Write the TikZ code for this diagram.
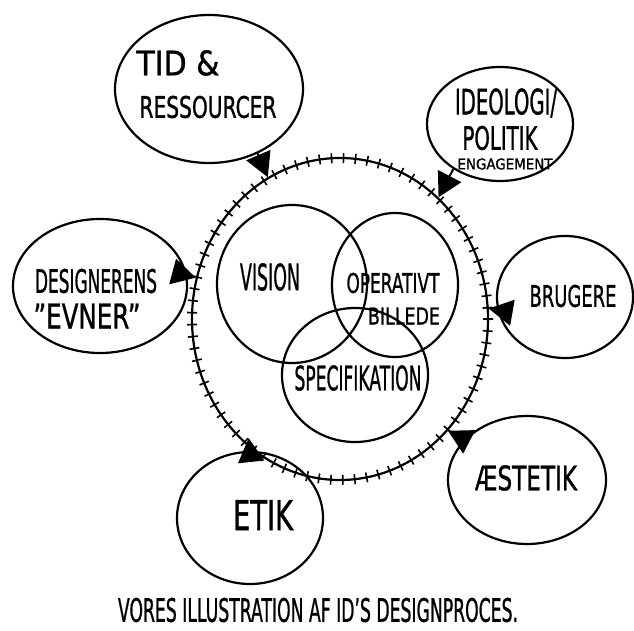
\documentclass[tikz,border=0pt]{standalone}
\usepackage{fontspec}
\usepackage{graphicx}
\setmainfont[FakeBold=1.2]{DejaVu Sans}
\usetikzlibrary{shapes.geometric,arrows.meta,decorations.pathreplacing}
\newcommand\lbl[3]{\resizebox{#1pt}{#2pt}{#3}}
\begin{document}
\begin{tikzpicture}[x=1pt,y=-1pt,
  circ/.style={ellipse, draw, line width=2.2pt, inner sep=0pt},
  txt/.style={inner sep=0pt},
  conn/.style={line width=2pt},
  tip/.tip={Triangle[length=24pt,width=26pt]},
  tickdeco/.style={decorate, line width=1.6pt, decoration={ticks, segment length=12pt, amplitude=5pt}}]
\useasboundingbox (0,0) rectangle (634,631);
% big ticked circle
\node[circ, minimum width=296pt, minimum height=322pt] (big) at (340,319) {};
\draw[tickdeco] (340,319) ellipse [x radius=148, y radius=161];
% inner circles
\node[circ, minimum width=150pt, minimum height=158pt] (vis) at (292,284) {};
\node[circ, minimum width=126pt, minimum height=144pt] (ope) at (395,285) {};
\node[circ, minimum width=146pt, minimum height=134pt] (spe) at (355,375) {};
% outer circles
\node[circ, minimum width=188pt, minimum height=148pt] (tid) at (209,89) {};
\node[circ, minimum width=146pt, minimum height=114pt] (ideo) at (500,124) {};
\node[circ, minimum width=174pt, minimum height=134pt] (des) at (100,286) {};
\node[circ, minimum width=136pt, minimum height=122pt] (bru) at (565,297) {};
\node[circ, minimum width=158pt, minimum height=128pt] (aes) at (527,480) {};
\node[circ, minimum width=146pt, minimum height=132pt] (etik) at (250,518) {};
% labels
\node[txt] (tidA) at (178,63) {\lbl{83}{25}{TID \&}};
\node[txt] (tidB) at (208,107) {\lbl{137}{22}{RESSOURCER}};
\node[txt] (ideoA) at (506,103) {\lbl{102}{26}{IDEOLOGI/}};
\node[txt] (ideoB) at (500,138) {\lbl{75}{24}{POLITIK}};
\node[txt] (ideoC) at (505,164) {\lbl{95}{11}{ENGAGEMENT}};
\node[txt] (desA) at (96,281) {\lbl{122}{24}{DESIGNERENS}};
\node[txt] (desB) at (87,316) {\lbl{107}{25}{"EVNER"}};
\node[txt] (bruA) at (573,296) {\lbl{87}{22}{BRUGERE}};
\node[txt] (aesA) at (526,478) {\lbl{102}{25}{ÆSTETIK}};
\node[txt] (etikA) at (263,515) {\lbl{60}{30}{ETIK}};
\node[txt] (visA) at (270,277) {\lbl{60}{27}{VISION}};
\node[txt] (opeA) at (393,283) {\lbl{93}{20}{OPERATIVT}};
\node[txt] (opeB) at (404,316) {\lbl{72}{17}{BILLEDE}};
\node[txt] (speA) at (358,378) {\lbl{127}{25}{SPECIFIKATION}};
\node[txt] (cap) at (318,610) {\lbl{400}{24}{VORES ILLUSTRATION AF ID'S DESIGNPROCES.}};
% connectors
\draw[conn, -tip] (tid.-53) -- (big.117);
\draw[conn, -tip] (ideo.-136) -- (big.51);
\draw[conn, -tip] (des.7) -- (big.164);
\draw[conn, -tip] (bru.-169) -- (big.4);
\draw[conn, -tip] (aes.147) -- (big.-46);
\draw[conn, -tip, shorten >=-10pt] (etik.north) -- (big.-125);
\end{tikzpicture}
\end{document}
